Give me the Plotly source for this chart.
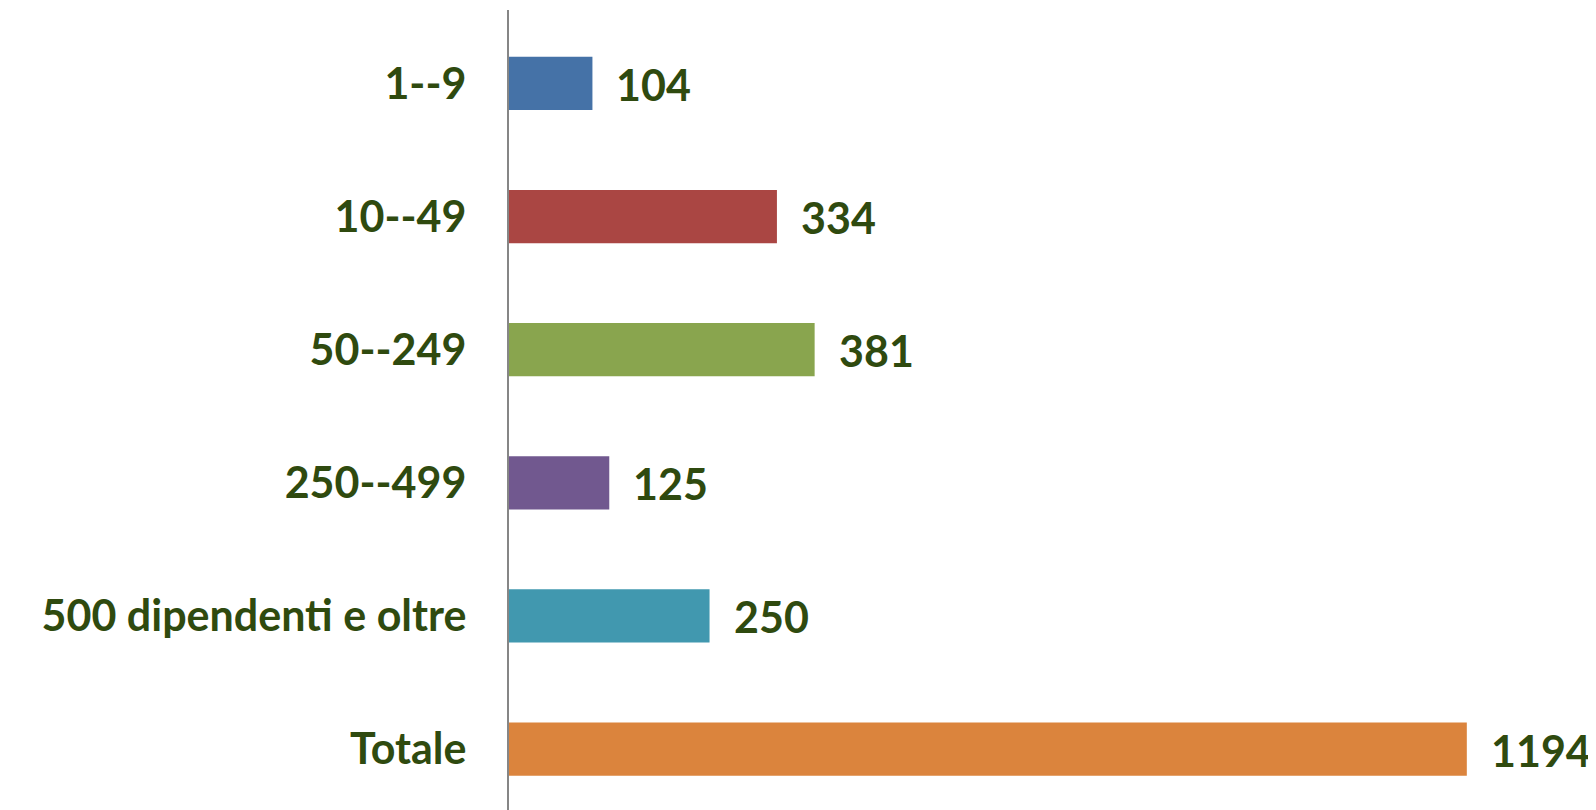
import plotly.graph_objects as go

categorie = ["1--9", "10--49", "50--249", "250--499", "500 dipendenti e oltre", "Totale"]
valori = [104, 334, 381, 125, 250, 1194]
colori = ["#4572a7", "#aa4643", "#89a54e", "#71588f", "#4198af", "#db843d"]

verde_testo = "#2f4a0f"
font_testo = dict(family="Lato, sans-serif", size=43,
                  color=verde_testo, weight="bold")

fig = go.Figure()
fig.add_trace(go.Bar(
    y=categorie,
    x=valori,
    orientation="h",
    marker=dict(color=colori, line=dict(width=0)),
    width=0.4,
    hoverinfo="skip",
))

# etichette dei valori a destra delle barre
for c, v in zip(categorie, valori):
    fig.add_annotation(
        x=v, y=c, text=str(v), showarrow=False,
        xanchor="left", xshift=22, yshift=-1,
        font=font_testo,
    )

fig.update_layout(
    width=1596, height=810,
    margin=dict(l=501, r=0, t=2, b=0),
    plot_bgcolor="white", paper_bgcolor="white",
    showlegend=False,
)
fig.update_xaxes(
    range=[0, 1365], showgrid=False, zeroline=False,
    showticklabels=False, showline=False, automargin=False,
)
fig.update_yaxes(
    range=[5.518, -0.552], showgrid=False, zeroline=False,
    showline=True, linecolor="#868686", linewidth=2,
    ticks="", ticklabelstandoff=32, automargin=False,
    tickfont=font_testo,
)

fig.write_html("out.html")
